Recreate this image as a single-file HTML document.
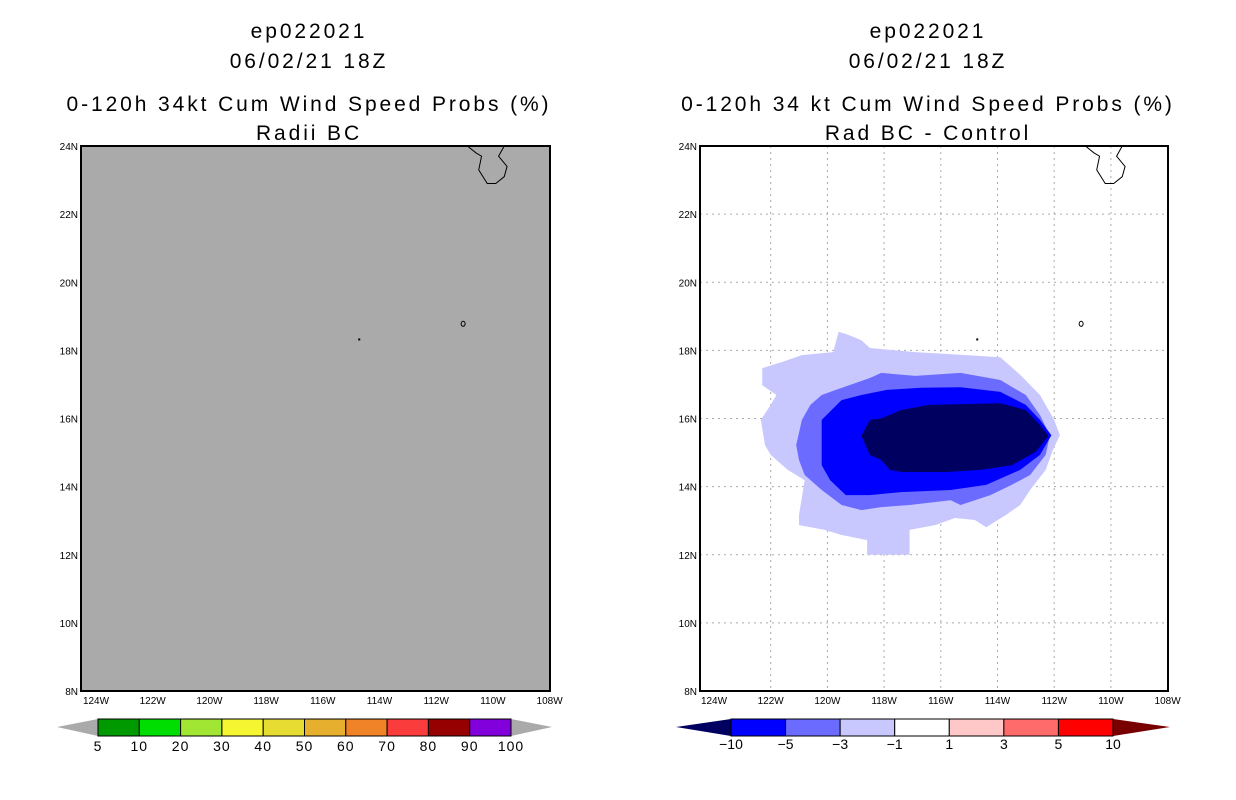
<!DOCTYPE html>
<html><head><meta charset="utf-8"><style>
body{margin:0;background:#fff;width:1236px;height:800px;overflow:hidden}
svg{display:block;font-family:"Liberation Sans",sans-serif}
</style></head><body>
<svg id="s" width="1236" height="800"></svg>
<script>
const lonTicks=[124,122,120,118,116,114,112,110,108];
const latTicks=[24,22,20,18,16,14,12,10,8];
const outerLon=[119.6,119.25,118.8,118.5,116.9,115.1,113.9,113.2,112.5,112.0,111.8,112.05,112.3,112.85,113.2,113.7,114.4,114.8,115.5,116.2,117.1,117.1,118.6,118.6,119.5,120.1,121.0,121.0,120.8,121.4,122.0,122.2,122.35,122.0,121.8,122.3,122.3,121.6,120.9,119.8];
const outerLat=[18.55,18.45,18.3,18.07,17.95,17.86,17.8,17.28,16.69,15.96,15.51,15.07,14.49,13.9,13.46,13.17,12.81,13.02,13.08,12.87,12.73,12.0,12.0,12.43,12.58,12.73,12.87,13.17,14.19,14.49,14.93,15.22,15.96,16.4,16.69,16.98,17.48,17.66,17.86,17.95];
const midLon=[121.1,120.9,120.6,120.2,119.7,118.5,118.1,116.9,115.3,113.9,113.0,112.5,112.15,112.3,112.85,113.5,114.25,115.3,115.65,117.1,118.1,118.8,119.5,120.2,120.8,121.0];
const midLat=[15.22,15.96,16.4,16.69,16.84,17.19,17.34,17.25,17.34,17.13,16.69,16.1,15.51,14.93,14.34,14.05,13.75,13.46,13.6,13.46,13.4,13.31,13.46,13.9,14.34,14.78];
const blueLon=[120.2,120.2,119.5,118.8,117.9,116.7,115.3,113.9,113.0,112.5,112.1,112.5,113.2,114.4,115.65,117.4,118.5,119.35,119.9,120.2];
const blueLat=[15.37,15.96,16.54,16.69,16.84,16.9,16.92,16.78,16.4,15.96,15.51,14.93,14.49,14.05,13.9,13.84,13.75,13.75,14.19,14.63];
const navyLon=[118.8,118.5,118.1,117.4,116.4,113.9,113.0,112.5,112.2,112.65,113.5,114.6,115.8,117.4,117.8,118.1,118.5];
const navyLat=[15.49,15.96,16.0,16.25,16.4,16.45,16.25,15.81,15.49,15.02,14.63,14.49,14.43,14.43,14.49,14.78,14.93];
const leftCbLabels=["5","10","20","30","40","50","60","70","80","90","100"];
const leftCbColors=["#009900","#00dd00","#a0e632","#f5f532","#e6dc32","#e6af2d","#f08228","#fa3c3c","#960000","#8200dc"];
const rightCbLabels=["-10","-5","-3","-1","1","3","5","10"];
const rightCbColors=["#0000ff","#6b6bff","#c8c8ff","#ffffff","#ffc8c8","#ff6b6b","#ff0000"];

const S=document.getElementById('s');const NS='http://www.w3.org/2000/svg';
function mk(t,a,txt){const e=document.createElementNS(NS,t);for(const k in a)e.setAttribute(k,a[k]);if(txt!==undefined)e.textContent=txt;S.appendChild(e);return e;}
const T=146,B=691,pxLat=(B-T)/16;
function yS(lat){return T+(24-lat)*pxLat;}
function panel(lon124){return lon=>lon124+(124-lon)*28.35;}
const xL=panel(96), xR=panel(714);

function titles(cx,l3,l4,p){
  [["ep022021",38],["06/02/21 18Z",68],[l3,111],[l4,140]].forEach((d,i)=>{
    const e=mk('text',{x:cx,y:d[1],'text-anchor':'middle','font-size':21,fill:'#000','letter-spacing':'2.9'},d[0]);
    
    
  });
}
titles(309,"0-120h 34kt Cum Wind Speed Probs (%)","Radii BC","left");
titles(928,"0-120h 34 kt Cum Wind Speed Probs (%)","Rad BC - Control","right");

let r=mk('rect',{x:81,y:T,width:469,height:B-T,fill:'#aaaaaa'});

lonTicks.forEach(l=>{if(l<124&&l>108){const e=mk('line',{x1:xR(l),x2:xR(l),y1:T,y2:B,stroke:'#aaa','stroke-dasharray':'2,4'});}});
latTicks.forEach(l=>{if(l<24&&l>8){const e=mk('line',{x1:700,x2:1168,y1:yS(l),y2:yS(l),stroke:'#aaa','stroke-dasharray':'2,4'});}});
[[outerLon,outerLat,'#c8c8ff','contour-minus1'],[midLon,midLat,'#6b6bff','contour-minus3'],[blueLon,blueLat,'#0000ff','contour-minus5'],[navyLon,navyLat,'#000060','contour-minus10']].forEach(c=>{
  const pts=c[0].map((lo,i)=>xR(lo).toFixed(1)+','+yS(c[1][i]).toFixed(1)).join(' ');
  const e=mk('polygon',{points:pts,fill:c[2]});
  
});
[[xL,'left'],[xR,'right']].forEach(([xs,p])=>{
  const pts=[[110.9,24],[110.6,23.8],[110.4,23.7],[110.5,23.3],[110.2,22.9],[109.9,22.9],[109.6,23.1],[109.5,23.4],[109.8,23.7],[109.6,24]];
  let e=mk('polyline',{points:pts.map(q=>xs(q[0])+','+yS(q[1])).join(' '),fill:'none',stroke:'#000','stroke-width':1});
  
  e=mk('ellipse',{cx:xs(111.05),cy:yS(18.78),rx:2,ry:2.5,fill:'none',stroke:'#000','stroke-width':1});
  
  e=mk('rect',{x:xs(114.75),y:yS(18.35),width:2,height:2,fill:'#000'});
  
});
[[81,550,xL,'left'],[700,1168,xR,'right']].forEach(([a,b,xs,p])=>{
  let e=mk('rect',{x:a,y:T,width:b-a,height:B-T,fill:'none',stroke:'#000','stroke-width':2});
  
  lonTicks.forEach(l=>{e=mk('text',{x:xs(l),y:704,'text-anchor':'middle','font-size':10},l+'W');
    });
  latTicks.forEach(l=>{e=mk('text',{x:a-3,y:yS(l)+4,'text-anchor':'end','font-size':10},l+'N');
    });
});
let e=mk('polygon',{points:'57,727 98,719 98,736',fill:'#aaa'});
e=mk('polygon',{points:'552,727 511,719 511,736',fill:'#aaa'});
const lw=(511-98)/leftCbColors.length;
leftCbColors.forEach((c,i)=>{e=mk('rect',{x:98+i*lw,y:719,width:lw,height:17,fill:c,stroke:'#000','stroke-width':1});
  });
leftCbLabels.forEach((t,i)=>{e=mk('text',{x:98+i*lw,y:751,'text-anchor':'middle','font-size':14,'letter-spacing':'1'},t);
  });
e=mk('polygon',{points:'676,727 731,719 731,736',fill:'#000060'});
e=mk('polygon',{points:'1170,727 1113,719 1113,736',fill:'#780000'});
const rw=(1113-731)/rightCbColors.length;
rightCbColors.forEach((c,i)=>{e=mk('rect',{x:731+i*rw,y:719,width:rw,height:17,fill:c,stroke:'#000','stroke-width':1});
  });
rightCbLabels.forEach((t,i)=>{e=mk('text',{x:731+i*rw,y:749,'text-anchor':'middle','font-size':14},t.replace('-','−'));
  });
</script>
</body></html>
